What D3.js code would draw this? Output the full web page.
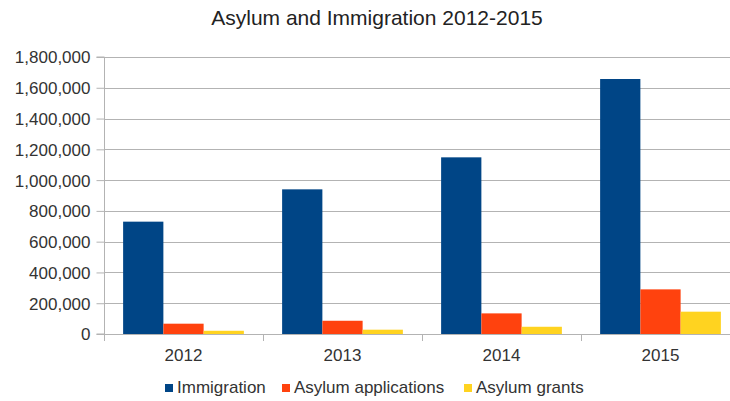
<!DOCTYPE html>
<html><head><meta charset="utf-8">
<script src="https://cdn.jsdelivr.net/npm/d3@7/dist/d3.min.js"></script>
<style>html,body{margin:0;padding:0;background:#fff;overflow:hidden}text{font-family:"Liberation Sans",Arial,sans-serif}</style>
</head><body><svg id="c" width="730" height="401"></svg>
<script>
const categories = ["2012", "2013", "2014", "2015"];
const seriesNames = ["Immigration", "Asylum applications", "Asylum grants"];
const immigration = [730000, 940000, 1148000, 1657000];
const asylumApplications = [67000, 86000, 134000, 290000];
const asylumGrants = [21000, 28000, 47000, 145000];
const yTicks = [0, 200000, 400000, 600000, 800000, 1000000, 1200000, 1400000, 1600000, 1800000];
const colors = ["#004586", "#ff420e", "#ffd320"];

(function () {
const series = [immigration, asylumApplications, asylumGrants];
const svg = d3.select("#c");
const pLeft = 104, pRight = 740, pTop = 57, pBottom = 334;
const FONT = "Liberation Sans, Arial, sans-serif";

const x = d3.scaleBand().domain(categories).range([pLeft, pRight]);
const xs = d3.scaleBand().domain(seriesNames).range([0, x.bandwidth()]).paddingOuter(0.475).paddingInner(0);
const y = d3.scaleLinear().domain([0, 1800000]).range([pBottom, pTop]);

// gridlines
svg.append("g").selectAll("line").data(yTicks.slice(1)).join("line")
  .attr("x1", pLeft).attr("x2", 730).attr("y1", d => Math.round(y(d)) + 0.5).attr("y2", d => Math.round(y(d)) + 0.5)
  .attr("stroke", "#b3b3b3").attr("stroke-width", 1);

// bars
const g = svg.append("g");
categories.forEach((c, i) => {
  series.forEach((s, j) => {
    g.append("rect")
      .attr("x", x(c) + xs(seriesNames[j]))
      .attr("width", xs.bandwidth())
      .attr("y", y(s[i]))
      .attr("height", pBottom - y(s[i]))
      .attr("fill", colors[j]);
  });
});

// y axis
const yAxis = d3.axisLeft(y).tickValues(yTicks).tickSize(8).tickPadding(6).tickFormat(d3.format(","));
const ya = svg.append("g").attr("transform", `translate(${pLeft + 0.5},0)`).call(yAxis);
ya.select(".domain").attr("stroke", "#b3b3b3").attr("d", `M-8,${pBottom}H0V${pTop}H-8`);
ya.selectAll(".tick line").attr("stroke", "#b3b3b3");
ya.selectAll(".tick text").attr("font-size", 17).attr("fill", "#333").attr("font-family", FONT).attr("dy", "0.35em");

// x axis
const xAxis = d3.axisBottom(x).tickSize(0).tickPadding(0);
const xa = svg.append("g").attr("transform", `translate(0,${pBottom + 0.5})`).call(xAxis);
xa.select(".domain").attr("stroke", "#b3b3b3").attr("d", `M${pLeft},0H730`);
xa.selectAll(".tick text").attr("font-size", 17).attr("fill", "#333").attr("font-family", FONT)
  .attr("dy", null).attr("y", 26.5);
svg.append("g").selectAll("line").data(categories.concat(["end"])).join("line")
  .attr("x1", (d, i) => Math.round(pLeft + i * x.bandwidth()) + 0.5)
  .attr("x2", (d, i) => Math.round(pLeft + i * x.bandwidth()) + 0.5)
  .attr("y1", pBottom).attr("y2", pBottom + 7).attr("stroke", "#b3b3b3");

// title
svg.append("text").attr("x", 377).attr("y", 25).attr("text-anchor", "middle")
  .attr("font-size", 21).attr("fill", "#222").text("Asylum and Immigration 2012-2015");

// legend
const legendX = [165, 282, 464];
const lg = svg.append("g");
seriesNames.forEach((n, j) => {
  lg.append("rect").attr("x", legendX[j]).attr("y", 384).attr("width", 8).attr("height", 8).attr("fill", colors[j]);
  lg.append("text").attr("x", legendX[j] + 12).attr("y", 393).attr("font-size", 17).attr("fill", "#333").text(n);
});
})();
</script></body></html>
